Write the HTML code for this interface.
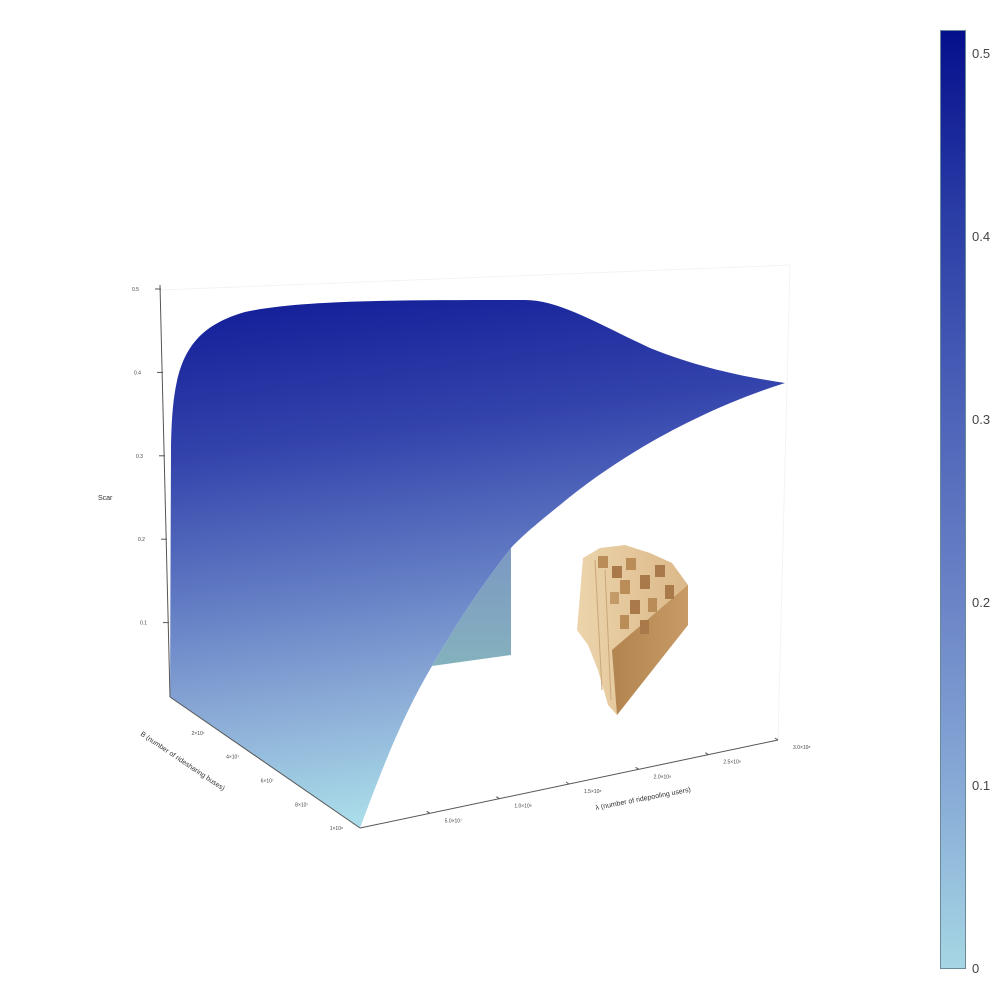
<!DOCTYPE html>
<html><head><meta charset="utf-8">
<style>
html,body{margin:0;padding:0;background:#fff;}
svg{display:block;font-family:"Liberation Sans",sans-serif;}
</style></head>
<body>
<svg id="chart" width="1000" height="1000" viewBox="0 0 1000 1000">
<defs>
<linearGradient id="cbgrad" x1="0" y1="1" x2="0" y2="0">
<stop offset="0" stop-color="#a6d6e4"/>
<stop offset="0.2" stop-color="#86a9d6"/>
<stop offset="0.4" stop-color="#6a82c6"/>
<stop offset="0.6" stop-color="#4c62b8"/>
<stop offset="0.8" stop-color="#2b3da6"/>
<stop offset="1" stop-color="#050f8c"/>
</linearGradient>
<linearGradient id="surfgrad" x1="0" y1="0" x2="0.15" y2="1">
<stop offset="0" stop-color="#111c97"/>
<stop offset="0.3" stop-color="#3444ac"/>
<stop offset="0.55" stop-color="#5f78c2"/>
<stop offset="0.78" stop-color="#8aaad6"/>
<stop offset="1" stop-color="#a9dbe8"/>
</linearGradient>
<linearGradient id="wallgrad" x1="0" y1="0" x2="0" y2="1">
<stop offset="0" stop-color="#7b98c2"/>
<stop offset="1" stop-color="#85b2be"/>
</linearGradient>
<linearGradient id="woodA" x1="0" y1="0" x2="1" y2="0">
<stop offset="0" stop-color="#ecd4ab"/>
<stop offset="1" stop-color="#dbb889"/>
</linearGradient>
<linearGradient id="woodB" x1="0" y1="0" x2="1" y2="0">
<stop offset="0" stop-color="#b2844f"/>
<stop offset="1" stop-color="#c89a66"/>
</linearGradient>
</defs>

<g stroke="#f3f3f3" stroke-width="1">
<line x1="160" y1="290" x2="790" y2="265"/>
<line x1="790" y1="265" x2="778" y2="740"/>
</g>

<g>
<path fill="url(#surfgrad)"
 d="M170,697 L171,450 C172,370 182,330 245,312 C300,300 400,300 525,300
 C560,300 600,325 650,348 C700,368 745,377 785,383
 C700,410 620,455 560,505 C535,525 520,538 511,548
 Q470,600 432,666 C400,720 380,775 360,828 Z"/>
<path d="M511,548 L511,655 L432,666 Q470,600 511,548 Z" fill="url(#wallgrad)"/>
</g>

<g>
<polygon points="583,558 600,548 625,545 650,553 672,563 688,585 688,625 617,715 608,705 598,670 588,645 577,630" fill="url(#woodA)"/>
<polygon points="612,650 688,585 688,625 617,715" fill="url(#woodB)"/>
<rect x="598" y="556" width="10" height="12" fill="#b98c58"/>
<rect x="612" y="566" width="10" height="12" fill="#a9794a"/>
<rect x="626" y="558" width="10" height="12" fill="#b98c58"/>
<rect x="620" y="580" width="10" height="14" fill="#b98c58"/>
<rect x="640" y="575" width="10" height="14" fill="#a9794a"/>
<rect x="655" y="565" width="10" height="12" fill="#a9794a"/>
<rect x="630" y="600" width="10" height="14" fill="#a9794a"/>
<rect x="610" y="592" width="9" height="12" fill="#c49a68"/>
<rect x="648" y="598" width="9" height="14" fill="#b98c58"/>
<rect x="665" y="585" width="9" height="14" fill="#a9794a"/>
<rect x="620" y="615" width="9" height="14" fill="#b98c58"/>
<rect x="640" y="620" width="9" height="14" fill="#a9794a"/>
<line x1="595" y1="560" x2="602" y2="690" stroke="#c9a77a" stroke-width="1"/>
<line x1="605" y1="570" x2="611" y2="700" stroke="#c9a77a" stroke-width="1"/>
</g>

<g stroke="#555" stroke-width="1" fill="none">
<line x1="160" y1="285" x2="170" y2="697"/>
<line x1="170" y1="697" x2="360" y2="828"/>
<line x1="360" y1="828" x2="778" y2="740"/>
</g>
<g id="ticks"></g>

<text x="98" y="500" font-size="7" fill="#333">Scar</text>
<text x="140" y="735" font-size="7" fill="#333" transform="rotate(34 140 735)">B (number of ridesharing buses)</text>
<text x="596" y="810" font-size="7" fill="#333" transform="rotate(-11 596 810)">λ (number of ridepooling users)</text>

<g>
<rect x="940.5" y="30.5" width="25" height="938" fill="url(#cbgrad)" stroke="#6b8a99" stroke-width="1"/>
<g id="cbticks"></g>
</g>

<script>
const cbValues = [0, 0.1, 0.2, 0.3, 0.4, 0.5];
const cbLabels = ["0", "0.1", "0.2", "0.3", "0.4", "0.5"];
const cbMax = 0.5125;
const zValues = [0.1, 0.2, 0.3, 0.4, 0.5];
const zLabels = ["0.1", "0.2", "0.3", "0.4", "0.5"];
const bValues = [2e7, 4e7, 6e7, 8e7, 1e8];
const bLabels = ["2×10⁷", "4×10⁷", "6×10⁷", "8×10⁷", "1×10⁸"];
const lamValues = [5e7, 1e8, 1.5e8, 2e8, 2.5e8, 3e8];
const lamLabels = ["5.0×10⁷", "1.0×10⁸", "1.5×10⁸", "2.0×10⁸", "2.5×10⁸", "3.0×10⁸"];

const NS = "http://www.w3.org/2000/svg";
function mk(tag, attrs, parent){const e=document.createElementNS(NS,tag);for(const k in attrs)e.setAttribute(k,attrs[k]);parent.appendChild(e);return e;}

function cbY(v){return 968 - (v/cbMax)*938;}
const cbg = document.getElementById('cbticks');
cbValues.forEach((v,i)=>{
  const y=cbY(v);
  const t=mk('text',{x:972,y:y+5,'font-size':13,fill:'#444'},cbg);
  
  
  t.textContent=cbLabels[i];
});

const tg = document.getElementById('ticks');
function zPos(v){return {x:170-(v/0.5)*10, y:706-(v/0.5)*417};}
zValues.forEach((v,i)=>{
  const p=zPos(v);
  const l=mk('line',{x1:p.x-5,y1:p.y,x2:p.x+1,y2:p.y,stroke:'#555'},tg);
  
  
  const t=mk('text',{x:p.x-28,y:p.y+2,'font-size':5,fill:'#444'},tg);
  
  
  t.textContent=zLabels[i];
});
function bPos(v){const f=v/1.1e8;return {x:170+f*190,y:697+f*131};}
bValues.forEach((v,i)=>{
  const p=bPos(v);
  const t=mk('text',{x:p.x-13,y:p.y+14,'font-size':5,fill:'#444'},tg);
  
  
  t.textContent=bLabels[i];
});
function lPos(v){const f=v/3e8;return {x:360+f*418,y:828-f*88};}
lamValues.forEach((v,i)=>{
  const p=lPos(v);
  const l=mk('line',{x1:p.x,y1:p.y,x2:p.x-3,y2:p.y-2,stroke:'#555'},tg);
  
  
  const t=mk('text',{x:p.x+15,y:p.y+9,'font-size':5,fill:'#444'},tg);
  
  
  t.textContent=lamLabels[i];
});
</script>
</svg>
</body></html>
